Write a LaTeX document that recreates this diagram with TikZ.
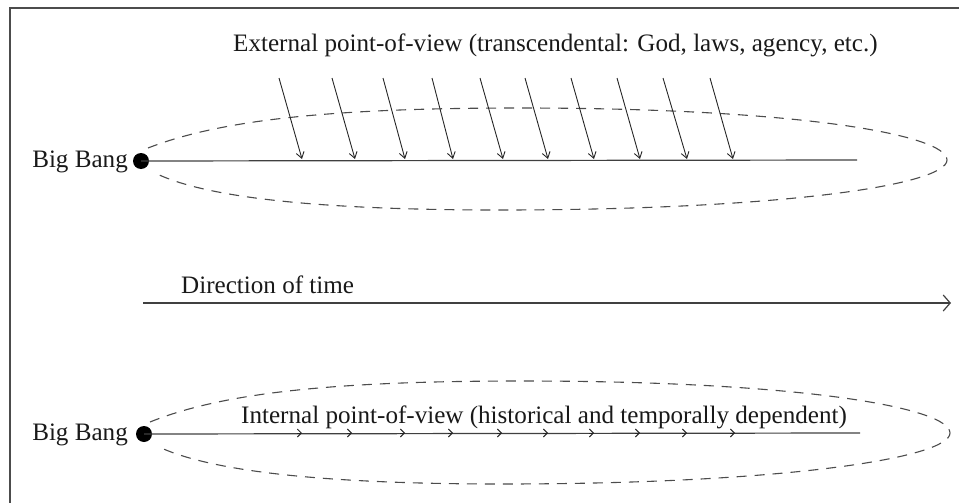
\documentclass[tikz,border=0pt]{standalone}
\usepackage{fontspec}
\setmainfont{Liberation Serif}
\usetikzlibrary{arrows.meta}
\begin{document}
\begin{tikzpicture}[x=1pt,y=-1pt,
  lbl/.style={font=\fontsize{25.1}{30}\selectfont, text=black!90, inner sep=0pt},
  frameline/.style={draw=black!70, line width=1.6pt},
  axisline/.style={draw=black!75, line width=1.2pt},
  eggline/.style={draw=black!70, line width=1.1pt, dash pattern=on 10pt off 8pt},
  influence/.style={draw=black!85, line width=0.9pt, -{Straight Barb[length=6pt,width=8pt]}},
  timearrow/.style={draw=black!75, line width=1.2pt, -{Straight Barb[length=7pt,width=16pt]}},
  tick/.style={draw=black!85, line width=0.9pt, -{Straight Barb[length=4pt,width=8pt]}},
  bigbang/.style={circle, fill=black, inner sep=0pt, minimum size=16pt}
]
\useasboundingbox (0,0) rectangle (959,503);
% frame
\draw[frameline] (10,503) -- (10,8) -- (959,8);

% ---------- top: external point of view ----------
\node[lbl, anchor=base west] (ext) at (233,52) {External point-of-view (transcendental: God, laws, agency, etc.)};
\draw[eggline, shift={(0,160)}] (148,-12) .. controls (220,-40) and (330,-52) .. (520,-52)
   .. controls (800,-52) and (947,-25) .. (947,0)
   .. controls (947,25) and (780,50) .. (500,50)
   .. controls (300,50) and (200,35) .. (155,13);
\node[bigbang] (bb1) at (141,161) {};
\node[lbl, anchor=base east] (bbl1) at (128,167) {Big Bang};
\coordinate (end1) at (857,160);
\draw[axisline] (bb1.center) -- (end1);
\foreach \s/\e [count=\i] in {279/302,332/355,383/405,432/453,480/503,525/548,571/594,617/640,663/687,710/733}{
  \coordinate (is\i) at (\s,78);
  \coordinate (ie\i) at (\e,159);
  \draw[influence] (is\i) -- (ie\i);
}

% ---------- middle: direction of time ----------
\node[lbl, anchor=base west] (dir) at (181,293) {Direction of time};
\coordinate (ts) at (143,303);
\coordinate (te) at (951,303);
\draw[timearrow] (ts) -- (te);

% ---------- bottom: internal point of view ----------
\draw[eggline, shift={(0,433)}] (150,-11) .. controls (222,-40) and (332,-52) .. (522,-52)
   .. controls (803,-52) and (950,-25) .. (950,0)
   .. controls (950,25) and (783,51) .. (502,51)
   .. controls (302,51) and (202,35) .. (157,13);
\node[bigbang] (bb2) at (144,434) {};
\node[lbl, anchor=base east] (bbl2) at (128,440) {Big Bang};
\coordinate (end2) at (860,433);
\draw[axisline] (bb2.center) -- (end2);
\node[lbl, anchor=base west] (int) at (241,423) {Internal point-of-view (historical and temporally dependent)};
\foreach \x [count=\i] in {302,352,405,453,502,548,594,640,687,735}{
  \coordinate (ts\i) at (\x-5,433);
  \coordinate (tt\i) at (\x,433);
  \draw[tick] (ts\i) -- (tt\i);
}
\end{tikzpicture}
\end{document}
